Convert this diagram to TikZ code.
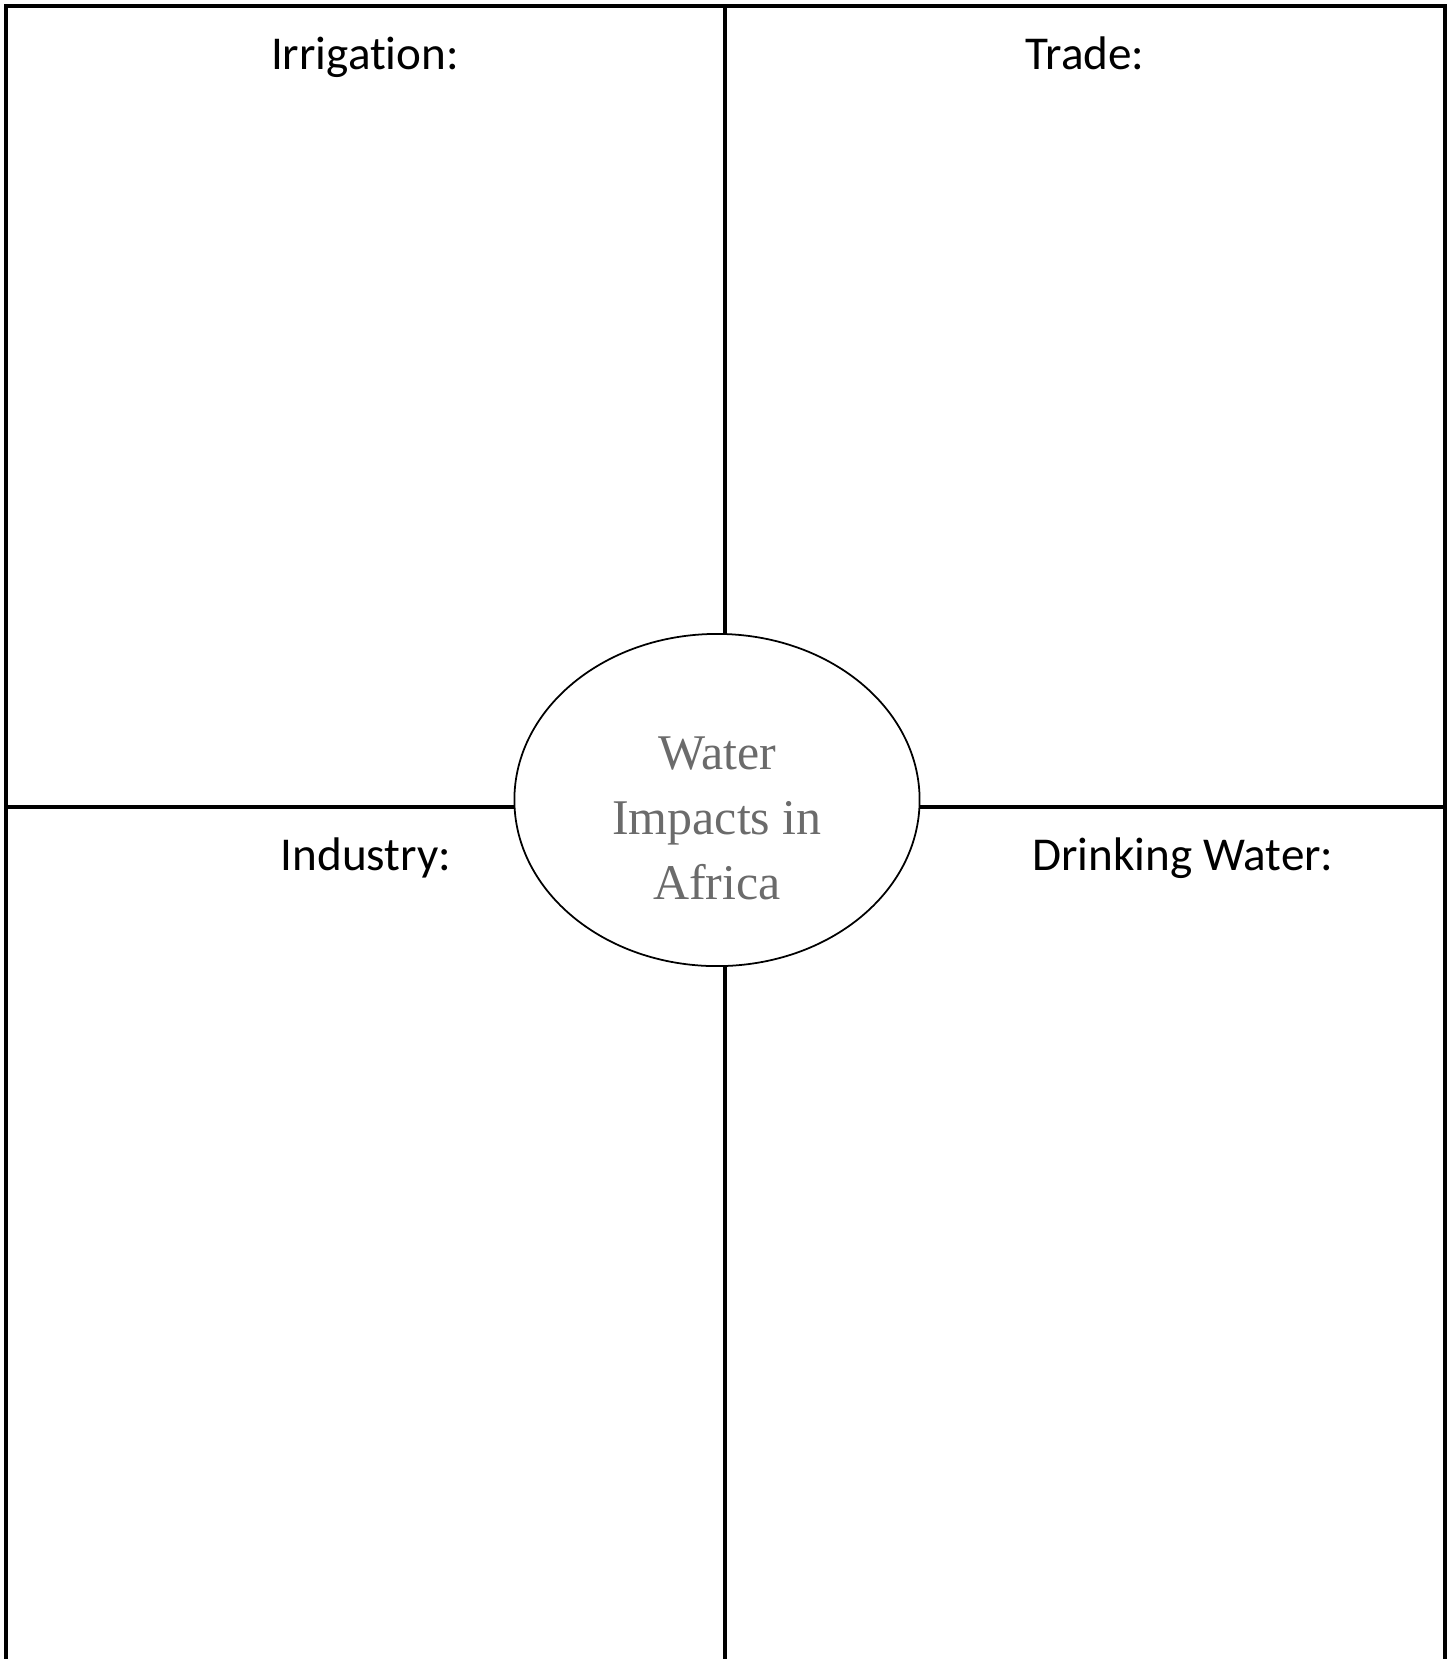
\documentclass[tikz,border=0pt]{standalone}
\usepackage{fontspec}
\setmainfont{Liberation Serif}
\newfontfamily\headfont[Ligatures=NoCommon]{Carlito}
\usetikzlibrary{shapes.geometric}

\begin{document}
\begin{tikzpicture}[
                x=0.01cm,
                y=-0.01cm,
                frame/.style={
                    line width=0.9pt,
                    line cap=butt
                },
                hub/.style={
                    ellipse,
                    draw,
                    fill=white,
                    line width=0.5pt,
                    minimum width=4.05cm,
                    minimum height=3.32cm,
                    inner sep=0pt
                },
                topic/.style={
                    anchor=base,
                    inner sep=0pt,
                    font=\headfont\fontsize{13.4}{16}\selectfont
                },
                caption/.style={
                    align=center,
                    inner sep=0pt,
                    text=black!58,
                    font=\fontsize{14.2}{18.5}\selectfont
                }
            ]

                \useasboundingbox (0,0) rectangle (1450,1659);

                \node[coordinate] (tl) at (6,6) {};
                \node[coordinate] (tr) at (1445,6) {};
                \node[coordinate] (bl) at (6,1659) {};
                \node[coordinate] (br) at (1445,1659) {};

                \node[coordinate] (tm) at (725,6) {};
                \node[coordinate] (bm) at (725,1659) {};
                \node[coordinate] (ml) at (6,807) {};
                \node[coordinate] (mr) at (1445,807) {};

                % outer frame, open at the bottom
                \draw[frame] (bl) -- (tl) -- (tr) -- (br);

                \node[hub] (w) at (717,800) {};

                % cross through the middle, cut by the ellipse
                \draw[frame] (tm) -- (w.north -| tm);
                \draw[frame] (w.south -| bm) -- (bm);
                \draw[frame] (ml) -- (w.west |- ml);
                \draw[frame] (w.east |- mr) -- (mr);

                \node[caption] (wt) at (717,818) {Water\\Impacts in\\Africa};

                \node[topic] (irr) at (365,69) {Irrigation:};
                \node[topic] (trd) at (1085,69) {Trade:};
                \node[topic] (ind) at (366,870) {Industry:};
                \node[topic] (drk) at (1183,870) {Drinking Water:};

            \end{tikzpicture}
\end{document}
